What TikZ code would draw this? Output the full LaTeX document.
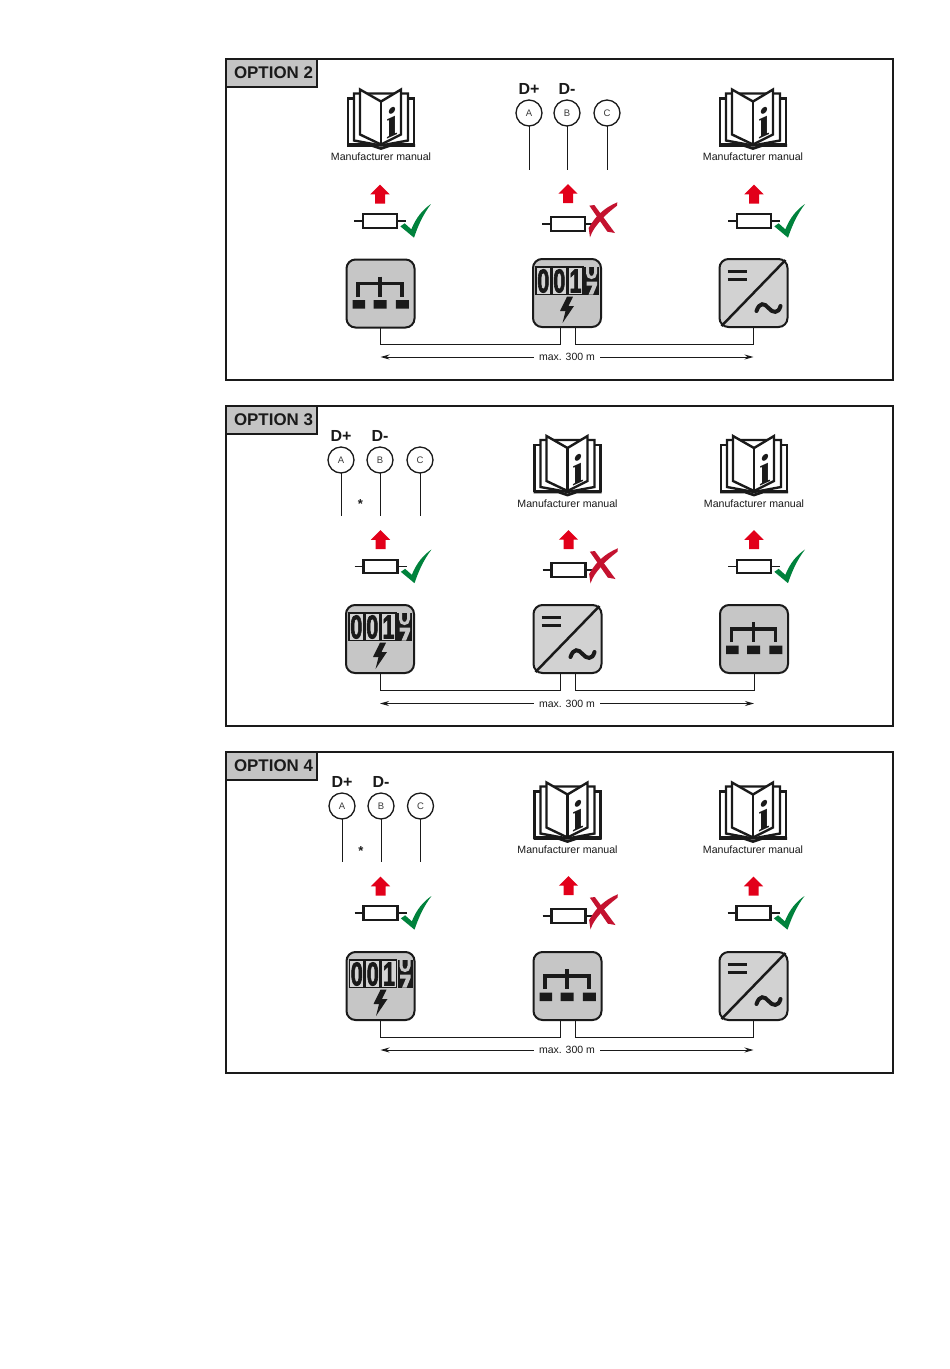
\documentclass[tikz,border=0pt]{standalone}
\usepackage{fontspec}
\setmainfont{Liberation Sans}
\newfontfamily\serifi{Liberation Serif}
\newfontfamily\digitfont[FakeBold=2.5]{Liberation Sans Bold}
\usetikzlibrary{calc,arrows.meta}
\definecolor{ink}{HTML}{1A1A1A}
\definecolor{panelgray}{HTML}{C4C4C4}
\definecolor{devgray}{HTML}{C6C6C6}
\definecolor{invgray}{HTML}{D2D2D2}
\definecolor{redarrow}{HTML}{E2001A}
\definecolor{redcross}{HTML}{C4122F}
\definecolor{greencheck}{HTML}{00823C}
\tikzset{
  x=1pt,y=-1pt,
  framebox/.style={draw=ink,line width=1.8pt,fill=white,outer sep=0pt},
  labelbox/.style={draw=ink,line width=1.8pt,fill=panelgray,outer sep=0pt},
  opttext/.style={font=\fontsize{16.9}{18}\selectfont\bfseries,text=ink,inner sep=0pt},
  bookline/.style={draw=ink,line width=2.4pt,line join=miter,fill=white},
  booktext/.style={font=\fontsize{10.6}{12}\selectfont,text=ink,inner sep=0pt},
  term/.style={circle,draw=ink,line width=1.3pt,minimum size=26pt,inner sep=0pt,fill=white,outer sep=0pt,
    font=\fontsize{9.5}{10}\selectfont,text=ink!85},
  dlabel/.style={font=\fontsize{16}{18}\selectfont\bfseries,text=ink,inner sep=0pt},
  thin wire/.style={draw=ink,line width=1pt},
  device/.style={draw=ink,line width=2pt,rounded corners=9pt,minimum width=68pt,minimum height=68pt,inner sep=0pt,outer sep=0pt},
  digit/.style={font=\digitfont\fontsize{33}{33}\selectfont,text=ink,inner sep=0pt,xscale=0.66},
  wire/.style={draw=ink,line width=1pt},
  dim/.style={draw=ink,line width=1pt,-{Stealth[length=9pt,width=5pt]}},
  dimtext/.style={font=\fontsize{10.5}{12}\selectfont,text=ink,inner sep=5pt},
  thirds/.style={x=0.3333pt,y=-0.3333pt},
}
% book: centre x, bottom y
\newcommand{\bookicon}[3]{%
 \begin{scope}[shift={(#2,#3)}]
  \path[bookline] (-33,-3) -- (-33,-49) -- (-27,-49) -- (27,-49) -- (33,-49) -- (33,-3) -- cycle;
  \path[bookline] (-27,-7) -- (-27,-54) -- (-21,-54) -- (21,-54) -- (27,-54) -- (27,-7) -- (0,-2) -- cycle;
  \path[bookline] (0,-3) -- (-21,-13) -- (-21,-58) -- (0,-46) -- (20,-58) -- (20,-13) -- cycle;
  \draw[ink,line width=2.4pt] (0,-46) -- (0,-3);
  \draw[ink,line width=2.8pt] (-34,-2) -- (-9,-2) -- (0,1) -- (9,-2) -- (34,-2);
  \node[inner sep=0pt,yslant=0.45,font=\serifi\bfseries\fontsize{42}{42}\selectfont,text=ink] (#1-i) at (11,-25) {i};
  \node[booktext] (#1-t) at (0,9.5) {Manufacturer manual};
 \end{scope}}
% fuse with arrow; #4 arrow lift in thirds of a pixel, #5 the mark
\newcommand{\fuseicon}[5]{%
 \begin{scope}[shift={(#2,#3)}]
  \draw[ink,line width=1.6pt] (-26,0) -- (26,0);
  \node[draw=ink,line width=2.2pt,fill=white,minimum width=34pt,minimum height=13.5pt,inner sep=0pt] (#1-fuse) at (0,0) {};
  \begin{scope}[thirds]
   \begin{scope}[yshift=#4*0.3333pt]
   \fill[redarrow] (0,-109) -- (29,-80) -- (15,-80) -- (15,-52) -- (-15,-52) -- (-15,-80) -- (-29,-80) -- cycle;
   \end{scope}
   #5
  \end{scope}
 \end{scope}}
\newcommand{\okmark}{\fill[greencheck] (61,16) -- (74,7) -- (94,25) .. controls (108,-10) and (128,-34) .. (153,-51) .. controls (128,-18) and (114,15) .. (102,50) -- cycle;}
\newcommand{\nomark}{\fill[redcross] (64,-55) -- (79,-57) -- (141,27) -- (118,23) -- cycle;
  \fill[redcross] (148,-65) -- (147,-55) .. controls (125,-38) and (105,-20) .. (96,-8) .. controls (82,8) and (72,22) .. (66,40) -- (62,12) .. controls (72,-6) and (85,-22) .. (92,-28) .. controls (110,-46) and (130,-58) .. (148,-65) -- cycle;}
% devices
\newcommand{\gateway}[3]{%
 \node[device,fill=devgray] (#1) at (#2,#3) {};
 \begin{scope}[shift={(#1.center)}]
  \draw[ink,line width=3.2pt,line join=miter] (-22.5,3) -- (-22.5,-10) -- (21.5,-10) -- (21.5,3);
  \draw[ink,line width=3.2pt] (-0.5,-17) -- (-0.5,3);
  \fill[ink] (-28,6.7) rectangle (-15.5,15) (-6.8,6.7) rectangle (6,15) (15.3,6.7) rectangle (28.3,15);
 \end{scope}}
\newcommand{\inverter}[3]{%
 \node[device,fill=invgray] (#1) at (#2,#3) {};
 \begin{scope}[shift={(#1.center)}]
  \draw[ink,line width=2.5pt] (32,-33) -- (-32,33);
  \draw[ink,line width=3pt] (-26,-21.3) -- (-7,-21.3) (-26,-14) -- (-7,-14);
  \draw[ink,line width=4pt,line cap=round] (3,18) .. controls (6,9) and (11,10) .. (15,15) .. controls (19,20) and (25,21) .. (27,13);
 \end{scope}}
\newcommand{\meter}[3]{%
 \node[device,fill=devgray] (#1) at (#2,#3) {};
 \begin{scope}[shift={(#1.center)}]
  \foreach \xa/\xb in {-31/-16.5,-15/-0.5,1/16}{\draw[ink,line width=1.3pt,fill=devgray!75] (\xa,-26) rectangle (\xb,1.7);}
  \node[digit] (#1-a) at (-23.7,-12) {0};
  \node[digit] (#1-b) at (-7.7,-12) {0};
  \node[digit] (#1-c) at (8.5,-12) {1};
  \fill[ink] (17,-26) rectangle (32,1.7);
  \draw[devgray,line width=3pt] (20.5,-26) -- (20.5,-20) .. controls (20.5,-14) and (28.5,-14) .. (28.5,-20) -- (28.5,-26);
  \fill[devgray] (19.5,-11.5) -- (30,-11.5) -- (30,-8) -- (26,1.7) -- (21.5,1.7) -- (25.5,-7.5) -- (19.5,-7.5) -- cycle;
  \fill[ink] (0,3.7) -- (-7,18) -- (-1.5,18) -- (-4.5,30) -- (7,13) -- (1.5,13) -- (6,3.7) -- cycle;
 \end{scope}}
\newcommand{\terminals}[7]{% prefix, xA,xB,xC, circle y, label y, end y
 \node[term] (#1-A) at (#2,#5) {A};
 \node[term] (#1-B) at (#3,#5) {B};
 \node[term] (#1-C) at (#4,#5) {C};
 \node[dlabel] (#1-dp) at (#2,#6) {D+};
 \node[dlabel] (#1-dm) at (#3,#6) {D-};
 \coordinate (#1-Ae) at (#2,#7);
 \coordinate (#1-Be) at (#3,#7);
 \coordinate (#1-Ce) at (#4,#7);
 \draw[thin wire] (#1-A.south) -- (#1-Ae);
 \draw[thin wire] (#1-B.south) -- (#1-Be);
 \draw[thin wire] (#1-C.south) -- (#1-Ce);}
\newcommand{\panel}[4]{% prefix, top y, height, option number
 \node[framebox,anchor=north west,minimum width=667pt,minimum height=#3pt,inner sep=0pt] (#1-frame) at (226,#2) {};
 \node[labelbox,anchor=north west,minimum width=91pt,minimum height=28pt,inner sep=0pt] (#1-label) at (226,#2) {};
 \node[opttext] (#1-opt) at (273.5,#2+14) {OPTION #4};}
\newcommand{\wiring}[4]{% prefix left, mid, right, dim y
 \draw[wire] (#1.south) -- ++(0,17) -| ($(#2.south)+(-7,0)$);
 \draw[wire] ($(#2.south)+(8,0)$) -- ++(0,17) -| (#3.south);
 \node[dimtext] (#2-dim) at (567,#4) {max. 300 m};
 \coordinate (#2-dl) at (#1.center |- #2-dim);
 \coordinate (#2-dr) at (#3.center |- #2-dim);
 \draw[dim] (#2-dim.west) -- (#2-dl);
 \draw[dim] (#2-dim.east) -- (#2-dr);}
\begin{document}
\begin{tikzpicture}
\useasboundingbox (0,0) rectangle (950,1369);
\fill[white] (0,0) rectangle (950,1369);
% OPTION 2
\panel{p2}{59}{321}{2}
\bookicon{b2l}{381}{147.5}
\bookicon{b2r}{753}{147.5}
\terminals{t2}{529}{567}{607}{113}{89}{170}
\fuseicon{f2l}{380}{221}{0}{\okmark}
\fuseicon{f2m}{568}{224}{11}{\nomark}
\fuseicon{f2r}{754}{221}{0}{\okmark}
\gateway{g2}{380.5}{293.5}
\meter{m2}{567}{293}
\inverter{i2}{753.5}{293}
\wiring{g2}{m2}{i2}{357}
% OPTION 3
\panel{p3}{406}{320}{3}
\terminals{t3}{341}{380}{420}{460}{436}{516}
\node[inner sep=0pt,font=\fontsize{13}{13}\selectfont\bfseries,text=ink] (s3) at (360.5,504) {*};
\bookicon{b3m}{567.5}{494}
\bookicon{b3r}{754}{494}
\fuseicon{f3l}{380.5}{566.5}{0}{\okmark}
\fuseicon{f3m}{568.5}{570}{11}{\nomark}
\fuseicon{f3r}{754}{566.5}{0}{\okmark}
\meter{m3}{380}{639}
\inverter{i3}{567.5}{639}
\gateway{g3}{754}{639}
\wiring{m3}{i3}{g3}{703.5}
% OPTION 4
\panel{p4}{752}{321}{4}
\terminals{t4}{342}{381}{420.5}{806}{782}{862}
\node[inner sep=0pt,font=\fontsize{13}{13}\selectfont\bfseries,text=ink] (s4) at (361,851) {*};
\bookicon{b4m}{567.5}{840.5}
\bookicon{b4r}{753}{840.5}
\fuseicon{f4l}{380.5}{913}{0}{\okmark}
\fuseicon{f4m}{568.5}{916}{11}{\nomark}
\fuseicon{f4r}{753.5}{913}{0}{\okmark}
\meter{m4}{380.5}{986}
\gateway{g4}{567.5}{986}
\inverter{i4}{753.5}{986}
\wiring{m4}{g4}{i4}{1050}
\end{tikzpicture}
\end{document}
